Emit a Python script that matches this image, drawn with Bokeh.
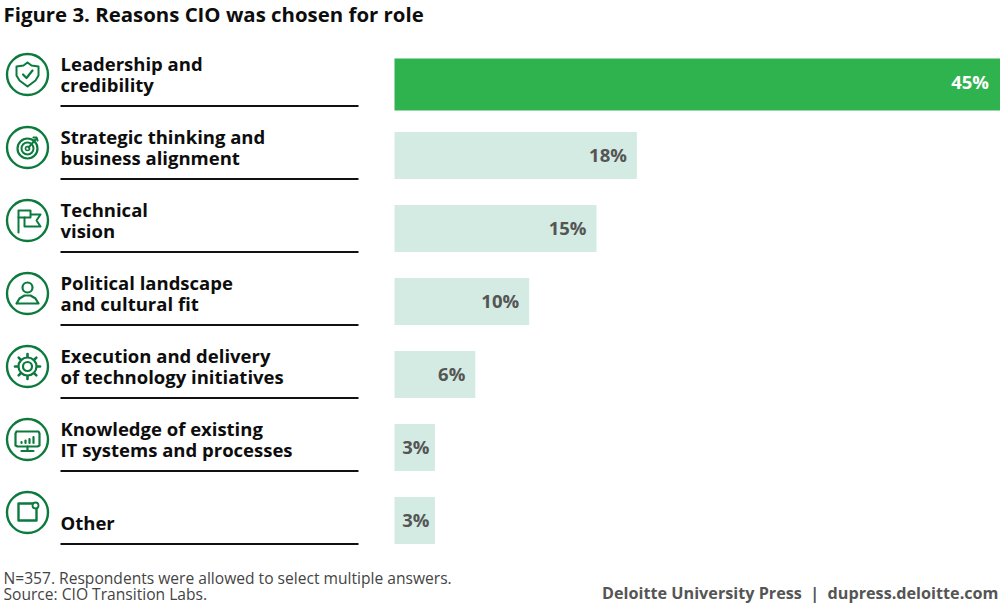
from bokeh.plotting import figure
from bokeh.models import Range1d, ColumnDataSource
from bokeh.core.properties import value
from bokeh.embed import file_html
from bokeh.resources import INLINE
import math

TITLE = "Figure 3. Reasons CIO was chosen for role"
categories = [["Leadership and", "credibility"], ["Strategic thinking and", "business alignment"],
              ["Technical", "vision"], ["Political landscape", "and cultural fit"],
              ["Execution and delivery", "of technology initiatives"],
              ["Knowledge of existing", "IT systems and processes"], ["Other"]]
values = [45, 18, 15, 10, 6, 3, 3]
NOTE = ["N=357. Respondents were allowed to select multiple answers.", "Source: CIO Transition Labs."]
CREDIT = "Deloitte University Press\u00a0 | \u00a0dupress.deloitte.com"

W = 1000
FULL_H = 607
X0 = 394.0
PX_PER_PCT = (1000 - X0) / 45.0
ROW0, STEP = 82.0, 73.0

GREEN, PALE, ICON = "#2eb34f", "#d3ebe2", "#0c7a3c"
FONT = value("Open Sans")

p = figure(width=W, height=FULL_H, output_backend="svg", toolbar_location=None,
           x_range=Range1d(-X0 / PX_PER_PCT, (W - X0) / PX_PER_PCT),
           y_range=Range1d((FULL_H - ROW0) / STEP, -ROW0 / STEP),
           min_border=0, outline_line_color=None, background_fill_color="white",
           x_axis_location=None, y_axis_location=None)
p.xgrid.visible = False
p.ygrid.visible = False
p.extra_x_ranges["px"] = Range1d(0, W)
p.extra_y_ranges["px"] = Range1d(FULL_H, 0)
PX = dict(x_range_name="px", y_range_name="px")

# bars
idx = list(range(len(values)))
tops = [(-24 / STEP) if i == 0 else i - 23.5 / STEP for i in idx]
bots = [(28 / STEP) if i == 0 else i + 23.5 / STEP for i in idx]
cols = [GREEN if i == 0 else PALE for i in idx]
src = ColumnDataSource(dict(left=[0] * 7, right=values, top=tops, bottom=bots, color=cols,
                            label=[f"{v}%" for v in values],
                            lx=[v - (5.5 if v < 5 else 10 if v < 45 else 11.5) / PX_PER_PCT for v in values],
                            ly=[i - 1 / STEP for i in idx],
                            tc=["white" if i == 0 else "#555555" for i in idx]))
p.quad(left="left", right="right", top="top", bottom="bottom", fill_color="color", line_color=None, source=src)
p.text(x="lx", y="ly", text="label", text_color="tc", text_align="right", text_baseline="middle",
       text_font=FONT, text_font_style="bold", text_font_size="18.5px", source=src)

# rows: labels and rules
for i, c in enumerate(categories):
    ys = [84 + STEP * i] if len(c) == 1 else [63 + STEP * i, 84 + STEP * i]
    p.text(x=[60] * len(c), y=ys, text=c, text_font=FONT, text_font_style="bold", text_font_size="18.5px",
           text_color="#0d0d0d", text_align="left", text_baseline="alphabetic", **PX)
p.segment(x0=[60] * 7, x1=[358] * 7, y0=[105.5 + STEP * i for i in idx], y1=[105.5 + STEP * i for i in idx],
          line_color="#111111", line_width=2.2, **PX)

# icons
ic = [(27, 74 + STEP * i) for i in idx]
p.scatter(x=[a for a, _ in ic], y=[b for _, b in ic], size=41, marker="circle",
          fill_color=None, line_color=ICON, line_width=2.4, **PX)

def poly(cx, cy, pts, lw=2.0, close=False):
    q = list(pts) + ([pts[0]] if close else [])
    p.line([cx + a for a, _ in q], [cy + b for _, b in q], line_color=ICON, line_width=lw,
           line_join="round", line_cap="round", **PX)

def ring(cx, cy, r, lw=2.0):
    p.scatter([cx], [cy], size=2 * r, marker="circle", fill_color=None, line_color=ICON, line_width=lw, **PX)

# shield
c = ic[0]
poly(*c, [(0, -12), (4, -9), (11, -8), (11, 1), (8, 6), (0, 12), (-8, 6), (-11, 1), (-11, -8), (-4, -9)], close=True)
poly(*c, [(-4.5, 0), (-1, 3.5), (5, -4)], lw=2.2)
# target
c = ic[1]
ring(c[0], c[1] + 1, 10, 2.2)
ring(c[0], c[1] + 1, 6, 2)
ring(c[0], c[1] + 1, 2, 1.6)
poly(*c, [(1, 0), (8, -8)], lw=2)
poly(*c, [(6, -10), (9, -10), (10, -7)], lw=2.2)
# flag
c = ic[2]
poly(*c, [(-9, 12), (-9, -10), (3, -10), (3, -6), (13, -6), (9, 0), (13, 6), (-3, 6), (-3, -3), (3, -3), (3, -6)], lw=2)
poly(*c, [(-9, -3), (-3, -3)], lw=2)
# person
c = ic[3]
ring(c[0], c[1] - 6, 5, 2.2)
poly(*c, [(-11, 10), (-8, 5), (-3, 2), (3, 2), (8, 5), (11, 10)], lw=2.2, close=True)
# gear
c = ic[4]
ring(c[0], c[1], 9, 2.2)
ring(c[0], c[1], 4.5, 2.2)
for k in range(8):
    a = k * math.pi / 4
    poly(*c, [(10 * math.cos(a), 10 * math.sin(a)), (12.5 * math.cos(a), 12.5 * math.sin(a))], lw=2.6)
# monitor
c = ic[5]
poly(*c, [(-11, -8), (11, -8), (12, -6), (12, 6), (10, 7), (-10, 7), (-12, 6), (-12, -6)], lw=2.2, close=True)
poly(*c, [(0, 7), (0, 11)], lw=2.2)
poly(*c, [(-6, 11.5), (6, 11.5)], lw=2.2)
for dx, hh in [(-6, 1), (-2, 2.5), (2, 4), (6, 6)]:
    poly(*c, [(dx, 3.5), (dx, 3.5 - hh)], lw=2.2)
# other
c = ic[6]
poly(*c, [(5, -9), (-9, -9), (-9, 8), (9, 8), (9, -3)], lw=2.4)
ring(c[0] + 8, c[1] - 7, 3, 1.8)

# title and footer
p.text(x=[3], y=[13], text=[TITLE], text_font=FONT, text_font_style="bold", text_font_size="20.4px",
       text_color="#0d0d0d", text_baseline="alphabetic", **PX)
p.text(x=[3, 3], y=[577, 593], text=NOTE, text_font=FONT, text_font_size="15.6px", text_color="#444444",
       text_baseline="alphabetic", **PX)
p.text(x=[998], y=[592], text=[CREDIT], text_font=FONT, text_font_style="bold", text_font_size="16.2px",
       text_color="#555555", text_align="right", text_baseline="alphabetic", **PX)

open("out.html", "w").write(file_html(p, INLINE))
